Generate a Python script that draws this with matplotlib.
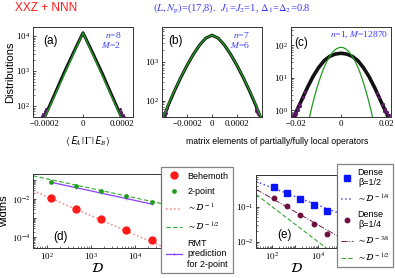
import numpy as np
import matplotlib
matplotlib.use('Agg')
import matplotlib.pyplot as plt
from matplotlib.lines import Line2D
from matplotlib.ticker import FixedLocator, FixedFormatter, LogLocator, FuncFormatter, NullFormatter

plt.rcParams['font.family'] = ['Liberation Serif', 'DejaVu Serif']
plt.rcParams['mathtext.fontset'] = 'stix'
SANS = ['Liberation Sans', 'DejaVu Sans']

# ---------------- data ----------------
# panel (a): n=8, M=2
a_x = [-0.00026, -0.00022, -0.0002, -0.00015, -0.0001, -0.00005, -0.00002, 0.0,
       0.00002, 0.00005, 0.0001, 0.00015, 0.0002, 0.00022, 0.00026]
a_y = [9, 28, 48, 200, 850, 3300, 7300, 12300, 7300, 3300, 850, 200, 48, 28, 9]
a_tail_x = [-0.000215, -0.00021, -0.000205, -0.0002, -0.000195, -0.00019,
            0.00019, 0.000195, 0.0002, 0.000205, 0.00021, 0.000215]
a_tail_y = [52, 60, 55, 70, 66, 82, 80, 68, 62, 57, 54, 50]
a_fit_amp, a_fit_scale = 12300, 3.56e-5

# panel (b): n=7, M=6
b_x = [-0.00045, -0.0004, -0.00035, -0.0003, -0.00025, -0.0002, -0.00015, -0.0001, -0.00005, 0.0,
       0.00005, 0.0001, 0.00015, 0.0002, 0.00025, 0.0003, 0.00035, 0.0004, 0.00045]
b_y = [11.7, 30, 76, 178, 390, 800, 1530, 2660, 4030, 4790,
       4030, 2660, 1530, 800, 390, 178, 76, 30, 11.7]
b_fit_y = [12.5, 32, 79, 182, 395, 805, 1540, 2670, 4040, 4800,
           4040, 2670, 1540, 805, 395, 182, 79, 32, 12.5]
b_tail_x = [-0.00038, -0.000375, -0.00037, -0.000365, -0.00036, 0.00035, 0.000355, 0.00036, 0.000365]
b_tail_y = [44, 52, 48, 58, 64, 62, 55, 50, 45]

# panel (c): n=1, M=12870
c_x = [-0.0225, -0.02, -0.0175, -0.015, -0.0125, -0.01, -0.0075, -0.005, -0.0025, 0.0,
       0.0025, 0.005, 0.0075, 0.01, 0.0125, 0.015, 0.0175, 0.02, 0.0225]
c_y = [0.35, 0.85, 2.0, 4.8, 10.5, 20, 33, 45, 53, 56,
       53, 45, 33, 20, 10.5, 4.8, 2.0, 0.85, 0.35]
c_tail_x = [-0.0215, -0.021, -0.0205, -0.02, -0.0195, -0.019, -0.0185, -0.018, -0.017, -0.016,
            0.016, 0.017, 0.018, 0.0185, 0.019, 0.0195, 0.02, 0.0205, 0.021, 0.0215]
c_tail_y = [0.7, 0.55, 0.9, 0.75, 1.15, 1.0, 1.5, 1.35, 2.6, 3.5,
            3.4, 2.5, 1.4, 1.55, 0.95, 1.1, 0.8, 0.85, 0.6, 0.68]
c_fit_amp, c_fit_sigma = 85, 0.00445

# panel (d): widths vs Hilbert space dimension
dims = [126, 462, 1716, 6435, 24310]
behemoth = [0.0121, 0.0031, 0.00092, 0.00024, 0.000072]
two_point = [0.0785, 0.050, 0.028, 0.015, 0.0075]
rmt_2pt = [0.077, 0.0402, 0.0209, 0.0108, 0.0055]
coef_inv, coef_invsqrt = 1.37, 1.18

# panel (e): dense operators
dense_half = [0.358, 0.24, 0.166, 0.112, 0.075]
dense_quarter = [0.174, 0.107, 0.057, 0.031, 0.0166]
coef_q, coef_38, coef_h = 1.10, 0.96, 1.0

# ---------------- styling ----------------
W, H = 395, 278
fig = plt.figure(figsize=(W / 100, H / 100), dpi=100)

def rect(x0, y0, x1, y1):
    return [x0 / W, 1 - y1 / H, (x1 - x0) / W, (y1 - y0) / H]

BLACK = '#111111'
PURP_PT = '#5b1a66'
GREEN = '#1f9a1f'
BLUE_TXT = '#3a3aff'
RED = '#ff1a1a'

def style(ax):
    ax.tick_params(which='both', direction='in', labelsize=6.5, pad=2,
                   top=False, right=False)
    ax.tick_params(which='major', length=2.5, width=0.5)
    ax.tick_params(which='minor', length=1.4, width=0.4)
    for s in ax.spines.values():
        s.set_linewidth(0.7)
        s.set_color('#333333')

def logfmt(keep):
    def f(v, pos):
        e = int(round(np.log10(v)))
        return r'$10^{%d}$' % e if e in keep else ''
    return FuncFormatter(f)

# (a)
axa = fig.add_axes(rect(33, 27, 133, 117))
xa = np.linspace(-0.00026, 0.00026, 301)
axa.plot(a_x, a_y, color=BLACK, lw=2.2)
axa.plot(a_tail_x, a_tail_y, ls='none', marker='o', ms=1.2, color=PURP_PT)
axa.plot(xa, a_fit_amp * np.exp(-np.abs(xa) / a_fit_scale), color=GREEN, lw=1.0)
axa.set_yscale('log')
axa.set_xlim(-0.00026, 0.00026)
axa.set_ylim(48.5, 18000)
axa.xaxis.set_major_locator(FixedLocator([-0.0002, 0, 0.0002]))
axa.xaxis.set_major_formatter(FixedFormatter(['\u22120.0002', '0', '0.0002']))
style(axa)
axa.text(0.1, 0.84, '(a)', transform=axa.transAxes, fontsize=8.5, family=SANS, va='center')
axa.text(0.88, 0.97, '$n$=8\n$M$=2', transform=axa.transAxes, fontsize=6.8, color=BLUE_TXT,
         ha='right', va='top', linespacing=1.0)
axa.set_ylabel('Distributions', family=SANS, fontsize=8, labelpad=1)

# (b)
axb = fig.add_axes(rect(162, 27, 262, 117))
axb.plot(b_x, b_y, color=BLACK, lw=2.2)
axb.plot(b_tail_x, b_tail_y, ls='none', marker='o', ms=1.2, color=PURP_PT)
axb.plot(b_x, b_fit_y, color=GREEN, lw=1.0)
axb.set_yscale('log')
axb.set_xlim(-0.0004, 0.0004)
axb.set_ylim(38, 7800)
axb.xaxis.set_major_locator(FixedLocator([-0.0002, 0, 0.0002]))
axb.xaxis.set_major_formatter(FixedFormatter(['\u22120.0002', '0', '0.0002']))
style(axb)
axb.text(0.06, 0.84, '(b)', transform=axb.transAxes, fontsize=8.5, family=SANS, va='center')
axb.text(0.88, 0.97, '$n$=7\n$M$=6', transform=axb.transAxes, fontsize=6.8, color=BLUE_TXT,
         ha='right', va='top', linespacing=1.0)

# (c)
axc = fig.add_axes(rect(291, 27, 391, 117))
xc = np.linspace(-0.0222, 0.0222, 301)
axc.plot(c_x, c_y, color=BLACK, lw=2.6)
axc.plot(c_tail_x, c_tail_y, ls='none', marker='o', ms=1.3, color=PURP_PT)
axc.plot(xc, c_fit_amp * np.exp(-xc ** 2 / (2 * c_fit_sigma ** 2)), color=GREEN, lw=0.9)
axc.set_yscale('log')
axc.set_xlim(-0.0222, 0.0222)
axc.set_ylim(0.61, 360)
axc.xaxis.set_major_locator(FixedLocator([-0.02, 0, 0.02]))
axc.xaxis.set_major_formatter(FixedFormatter(['\u22120.02', '0', '0.02']))
style(axc)
axc.text(0.03, 0.82, '(c)', transform=axc.transAxes, fontsize=8.5, family=SANS, va='center')
axc.text(0.97, 0.97, '$n$=1, $M$=12870', transform=axc.transAxes, fontsize=6.8, color=BLUE_TXT,
         ha='right', va='top')

# (d)
axd = fig.add_axes(rect(33, 174, 161, 248))
xd = np.array([49, 39000])
axd.plot(xd, coef_inv / xd, ls=':', color='#ff8080', lw=1.1)
axd.plot(xd, coef_invsqrt / np.sqrt(xd), ls='--', color='#33aa33', lw=0.8, dashes=(4, 2))
axd.plot(dims, rmt_2pt, color='#8a3ffc', lw=0.9, marker='|', ms=2, mew=0.6)
axd.plot(dims, behemoth, ls='none', marker='o', ms=5, color=RED)
axd.plot(dims, two_point, ls='none', marker='o', ms=2.4, color=GREEN)
axd.set_xscale('log')
axd.set_yscale('log')
axd.set_xlim(49, 39000)
axd.set_ylim(2.75e-5, 0.21)
axd.yaxis.set_major_locator(LogLocator(base=10, numticks=20))
axd.yaxis.set_major_formatter(logfmt([-2, -4]))
axd.yaxis.set_minor_locator(LogLocator(base=10, subs=np.arange(2, 10), numticks=20))
axd.yaxis.set_minor_formatter(NullFormatter())
style(axd)
axd.text(0.16, 0.15, '(d)', transform=axd.transAxes, fontsize=8.5, family=SANS, va='center')
axd.set_ylabel('widths', family=SANS, fontsize=8, labelpad=2)
axd.set_xlabel(r'$\mathcal{D}$', fontsize=10, labelpad=0)

hd = [Line2D([], [], ls='none', marker='o', ms=5, color=RED),
      Line2D([], [], ls='none', marker='o', ms=2.4, color=GREEN),
      Line2D([], [], ls=':', color='#ff8080', lw=1.1),
      Line2D([], [], ls='--', color='#33aa33', lw=0.8, dashes=(4, 2)),
      Line2D([], [], color='#8a3ffc', lw=0.9, marker='|', ms=2, mew=0.6, markevery=[0, 1])]
ld = ['Behemoth', '2-point', r'$\sim\mathcal{D}^{\,-1}$', r'$\sim\mathcal{D}^{\,-1/2}$',
      'RMT\nprediction\nfor 2-point']
leg = fig.legend(hd, ld, loc='upper left', bbox_to_anchor=(161 / W, 1 - 167 / H),
                 prop={'family': SANS, 'size': 6.5}, frameon=True, fancybox=False,
                 edgecolor='#666666', handlelength=1.8, handletextpad=0.6,
                 labelspacing=0.7, borderpad=0.5, borderaxespad=0)
leg.get_frame().set_linewidth(0.9)

# (e)
axe = fig.add_axes(rect(256, 175, 337, 248))
xe = np.array([20, 68000])
axe.plot(xe, coef_q * xe ** -0.25, ls=':', color='#4d4dff', lw=1.1)
axe.plot(xe, coef_38 * xe ** -0.375, ls='-.', color='#7a1e4e', lw=0.7)
axe.plot(xe, coef_h * xe ** -0.5, ls='--', color='#33aa33', lw=0.8, dashes=(4, 2))
axe.plot(dims, dense_half, ls='none', marker='s', ms=4.2, color='#0a14ff')
axe.plot(dims, dense_quarter, ls='none', marker='o', ms=3.2, color='#6b0f3f')
axe.set_xscale('log')
axe.set_yscale('log')
axe.set_xlim(20, 68000)
axe.set_ylim(0.0066, 0.8)
axe.xaxis.set_major_locator(LogLocator(base=10, numticks=20))
axe.xaxis.set_major_formatter(logfmt([2, 4]))
axe.xaxis.set_minor_locator(LogLocator(base=10, subs=np.arange(2, 10), numticks=20))
axe.xaxis.set_minor_formatter(NullFormatter())
style(axe)
axe.text(0.26, 0.18, '(e)', transform=axe.transAxes, fontsize=8.5, family=SANS, va='center')
axe.set_xlabel(r'$\mathcal{D}$', fontsize=10, labelpad=0)

he = [Line2D([], [], ls='none', marker='s', ms=4.2, color='#0a14ff'),
      Line2D([], [], ls=':', color='#4d4dff', lw=1.1),
      Line2D([], [], ls='none', marker='o', ms=3.2, color='#6b0f3f'),
      Line2D([], [], ls='-.', color='#7a1e4e', lw=0.7),
      Line2D([], [], ls='--', color='#33aa33', lw=0.8, dashes=(4, 2))]
le = ['Dense\n\u03b2=1/2', r'$\sim\mathcal{D}^{\,-1/4}$', 'Dense\n\u03b2=1/4',
      r'$\sim\mathcal{D}^{\,-3/8}$', r'$\sim\mathcal{D}^{\,-1/2}$']
leg2 = fig.legend(he, le, loc='upper left', bbox_to_anchor=(337 / W, 1 - 164 / H),
                  prop={'family': SANS, 'size': 6.5}, frameon=True, fancybox=False,
                  edgecolor='#666666', handlelength=1.4, handletextpad=0.4,
                  labelspacing=0.6, borderpad=0.4, borderaxespad=0)
leg2.get_frame().set_linewidth(0.9)
for t in leg2.get_texts():
    t.set_multialignment('center')

# figure texts
fig.text(15 / W, 1 - 8 / H, 'XXZ + NNN', color=RED, family=SANS, fontsize=8.5, va='center')
fig.text(153 / W, 1 - 8 / H,
         r'$(L,N_{\rm p})$=(17,8).  $J_1$=$J_2$=1, $\Delta_1$=$\Delta_2$=0.8',
         color=BLUE_TXT, fontsize=7.6, va='center')
fig.text(88 / W, 1 - 141 / H, r'$\langle\,\mathsf{E}_A\,|\,\Gamma\,|\,\mathsf{E}_B\rangle$',
         fontsize=7, ha='center', va='center')
fig.text(277 / W, 1 - 141 / H, 'matrix elements of partially/fully local operators',
         family=SANS, fontsize=6.3, ha='center', va='center')

fig.savefig('out.png', dpi=100)
